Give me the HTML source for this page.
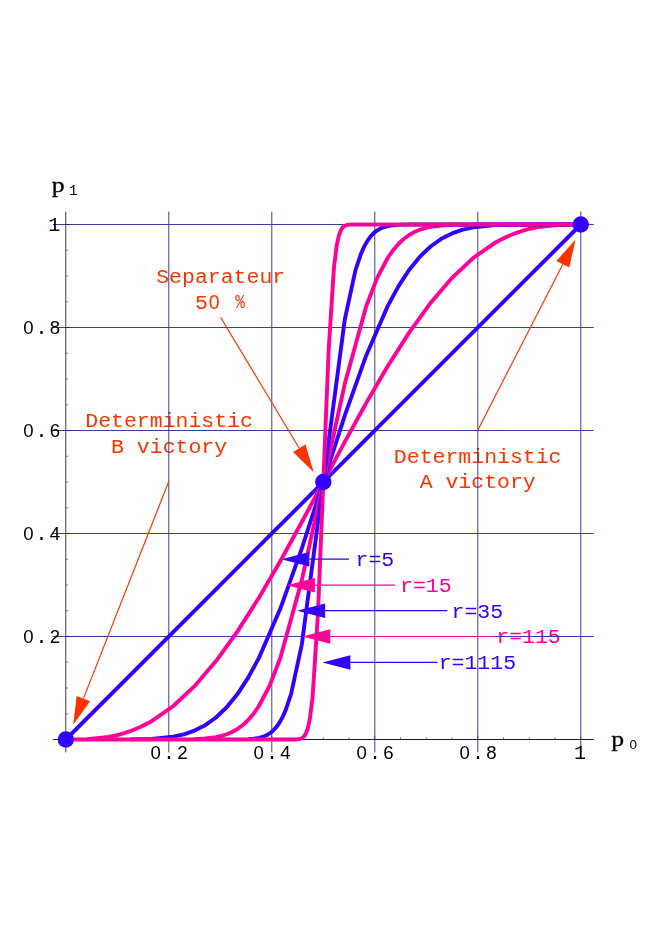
<!DOCTYPE html>
<html><head><meta charset="utf-8"><title>plot</title>
<style>html,body{margin:0;padding:0;background:#fff;}svg{display:block;will-change:transform;}text{font-family:"Liberation Mono",monospace;}</style>
</head><body>
<svg width="664" height="940" viewBox="0 0 664 940">
<rect width="664" height="940" fill="#ffffff"/>
<text transform="translate(220.70,283.40) scale(1.1026,1)" fill="#ff3300" font-size="19.5" text-anchor="middle" font-weight="normal" xml:space="preserve">Separateur</text>
<text transform="translate(201.35,308.50) scale(1.024,1)" fill="#ff3300" font-size="21" text-anchor="middle" font-weight="normal" xml:space="preserve">5</text>
<text x="214.25" y="308.5" fill="#ff3300" font-size="19.4" text-anchor="middle" style="font-family:'Liberation Sans',sans-serif">0</text>
<text transform="translate(240.10,308.30) scale(0.8,1)" fill="#ff3300" font-size="20" text-anchor="middle" font-weight="normal" xml:space="preserve">%</text>
<text transform="translate(169.10,427.10) scale(1.1026,1)" fill="#ff3300" font-size="19.5" text-anchor="middle" font-weight="normal" xml:space="preserve">Deterministic</text>
<text transform="translate(169.10,452.70) scale(1.1026,1)" fill="#ff3300" font-size="19.5" text-anchor="middle" font-weight="normal" xml:space="preserve">B victory</text>
<text transform="translate(477.70,463.00) scale(1.1026,1)" fill="#ff3300" font-size="19.5" text-anchor="middle" font-weight="normal" xml:space="preserve">Deterministic</text>
<text transform="translate(477.70,488.40) scale(1.1026,1)" fill="#ff3300" font-size="19.5" text-anchor="middle" font-weight="normal" xml:space="preserve">A victory</text>
<text transform="translate(374.90,566.00) scale(1.024,1)" fill="#3300ff" font-size="21" text-anchor="middle" font-weight="normal" xml:space="preserve">r=5</text>
<text transform="translate(425.85,592.00) scale(1.024,1)" fill="#ff0099" font-size="21" text-anchor="middle" font-weight="normal" xml:space="preserve">r=15</text>
<text transform="translate(477.35,617.50) scale(1.024,1)" fill="#3300ff" font-size="21" text-anchor="middle" font-weight="normal" xml:space="preserve">r=35</text>
<text transform="translate(528.50,643.20) scale(1.024,1)" fill="#ff0099" font-size="21" text-anchor="middle" font-weight="normal" xml:space="preserve">r=115</text>
<text transform="translate(477.35,669.20) scale(1.024,1)" fill="#3300ff" font-size="21" text-anchor="middle" font-weight="normal" xml:space="preserve">r=1115</text>
<g stroke="#333399" stroke-width="0.95" fill="none">
<line x1="168.80" y1="211.62" x2="168.80" y2="752.38"/>
<line x1="52.92" y1="636.50" x2="593.67" y2="636.50"/>
<line x1="271.80" y1="211.62" x2="271.80" y2="752.38"/>
<line x1="52.92" y1="533.50" x2="593.67" y2="533.50"/>
<line x1="374.80" y1="211.62" x2="374.80" y2="752.38"/>
<line x1="52.92" y1="430.50" x2="593.67" y2="430.50"/>
<line x1="477.80" y1="211.62" x2="477.80" y2="752.38"/>
<line x1="52.92" y1="327.50" x2="593.67" y2="327.50"/>
<line x1="580.80" y1="211.62" x2="580.80" y2="752.38"/>
<line x1="52.92" y1="224.50" x2="593.67" y2="224.50"/>
<line x1="52.92" y1="739.50" x2="593.67" y2="739.50"/>
<line x1="66.30" y1="211.62" x2="66.30" y2="752.38" stroke-width="0.35"/>
</g>
<g stroke="#000000" stroke-width="0.6" fill="none">
<line x1="52.92" y1="739.50" x2="593.67" y2="739.50"/>
<line x1="65.50" y1="211.62" x2="65.50" y2="752.38" stroke-width="0.55"/>
</g>
<g stroke="#000000" stroke-width="0.45" fill="none">
<line x1="91.55" y1="739.50" x2="91.55" y2="737.10"/>
<line x1="65.80" y1="713.75" x2="68.20" y2="713.75"/>
<line x1="117.30" y1="739.50" x2="117.30" y2="737.10"/>
<line x1="65.80" y1="688.00" x2="68.20" y2="688.00"/>
<line x1="143.05" y1="739.50" x2="143.05" y2="737.10"/>
<line x1="65.80" y1="662.25" x2="68.20" y2="662.25"/>
<line x1="168.80" y1="739.50" x2="168.80" y2="735.70"/>
<line x1="65.80" y1="636.50" x2="69.60" y2="636.50"/>
<line x1="194.55" y1="739.50" x2="194.55" y2="737.10"/>
<line x1="65.80" y1="610.75" x2="68.20" y2="610.75"/>
<line x1="220.30" y1="739.50" x2="220.30" y2="737.10"/>
<line x1="65.80" y1="585.00" x2="68.20" y2="585.00"/>
<line x1="246.05" y1="739.50" x2="246.05" y2="737.10"/>
<line x1="65.80" y1="559.25" x2="68.20" y2="559.25"/>
<line x1="271.80" y1="739.50" x2="271.80" y2="735.70"/>
<line x1="65.80" y1="533.50" x2="69.60" y2="533.50"/>
<line x1="297.55" y1="739.50" x2="297.55" y2="737.10"/>
<line x1="65.80" y1="507.75" x2="68.20" y2="507.75"/>
<line x1="323.30" y1="739.50" x2="323.30" y2="737.10"/>
<line x1="65.80" y1="482.00" x2="68.20" y2="482.00"/>
<line x1="349.05" y1="739.50" x2="349.05" y2="737.10"/>
<line x1="65.80" y1="456.25" x2="68.20" y2="456.25"/>
<line x1="374.80" y1="739.50" x2="374.80" y2="735.70"/>
<line x1="65.80" y1="430.50" x2="69.60" y2="430.50"/>
<line x1="400.55" y1="739.50" x2="400.55" y2="737.10"/>
<line x1="65.80" y1="404.75" x2="68.20" y2="404.75"/>
<line x1="426.30" y1="739.50" x2="426.30" y2="737.10"/>
<line x1="65.80" y1="379.00" x2="68.20" y2="379.00"/>
<line x1="452.05" y1="739.50" x2="452.05" y2="737.10"/>
<line x1="65.80" y1="353.25" x2="68.20" y2="353.25"/>
<line x1="477.80" y1="739.50" x2="477.80" y2="735.70"/>
<line x1="65.80" y1="327.50" x2="69.60" y2="327.50"/>
<line x1="503.55" y1="739.50" x2="503.55" y2="737.10"/>
<line x1="65.80" y1="301.75" x2="68.20" y2="301.75"/>
<line x1="529.30" y1="739.50" x2="529.30" y2="737.10"/>
<line x1="65.80" y1="276.00" x2="68.20" y2="276.00"/>
<line x1="555.05" y1="739.50" x2="555.05" y2="737.10"/>
<line x1="65.80" y1="250.25" x2="68.20" y2="250.25"/>
<line x1="580.80" y1="739.50" x2="580.80" y2="735.70"/>
<line x1="65.80" y1="224.50" x2="69.60" y2="224.50"/>
</g>
<g fill="none" stroke-width="3.9" stroke-linejoin="round" stroke-linecap="butt">
<path d="M65.80,739.50 L580.80,224.50" stroke="#3300ff"/>
<path d="M87.26,739.15 L108.72,736.88 L119.45,734.55 L130.18,731.23 L140.90,726.82 L151.63,721.22 L173.09,706.27 L194.55,686.19 L216.01,661.10 L237.47,631.41 L258.93,597.77 L280.38,560.99 L301.84,522.05 L323.30,482.00 L344.76,441.95 L366.22,403.01 L387.68,366.23 L409.13,332.59 L430.59,302.90 L452.05,277.81 L473.51,257.73 L494.97,242.78 L505.70,237.18 L516.42,232.77 L527.15,229.45 L537.88,227.12 L559.34,224.85 L580.80,224.50" stroke="#ff0099"/>
<path d="M130.18,739.41 L151.63,738.85 L173.09,736.66 L183.82,734.29 L194.55,730.59 L205.28,725.14 L216.01,717.51 L226.74,707.26 L237.47,694.06 L248.20,677.63 L258.93,657.86 L280.38,608.53 L301.84,548.35 L323.30,482.00 L344.76,415.65 L366.22,355.47 L387.68,306.14 L398.40,286.37 L409.13,269.94 L419.86,256.74 L430.59,246.49 L441.32,238.86 L452.05,233.41 L462.78,229.71 L473.51,227.34 L494.97,225.15 L516.42,224.59 L537.88,224.50 L559.34,224.50 L580.80,224.50" stroke="#3300ff"/>
<path d="M194.55,739.14 L205.28,738.52 L216.01,737.12 L221.37,735.92 L226.74,734.26 L232.10,732.00 L237.47,728.98 L242.83,725.05 L248.20,720.03 L253.56,713.74 L258.93,706.00 L269.65,685.58 L280.38,657.80 L301.84,580.13 L323.30,482.00 L344.76,383.87 L366.22,306.20 L376.95,278.42 L387.68,258.00 L393.04,250.26 L398.40,243.97 L403.77,238.95 L409.13,235.02 L414.50,232.00 L419.86,229.74 L425.23,228.08 L430.59,226.88 L441.32,225.48 L452.05,224.86 L473.51,224.53 L494.97,224.50 L516.42,224.50 L537.88,224.50 L559.34,224.50 L580.80,224.50" stroke="#ff0099"/>
<path d="M248.20,739.15 L253.56,738.72 L258.93,737.87 L261.61,737.19 L264.29,736.27 L266.97,735.04 L269.65,733.43 L272.34,731.34 L275.02,728.68 L277.70,725.32 L280.38,721.15 L283.07,716.04 L285.75,709.86 L291.11,693.81 L301.84,644.32 L323.30,482.00 L344.76,319.68 L355.49,270.19 L360.85,254.14 L363.53,247.96 L366.22,242.85 L368.90,238.68 L371.58,235.32 L374.26,232.66 L376.95,230.57 L379.63,228.96 L382.31,227.73 L384.99,226.81 L387.68,226.13 L393.04,225.28 L398.40,224.85 L409.13,224.56 L430.59,224.50 L452.05,224.50 L473.51,224.50 L494.97,224.50 L516.42,224.50 L537.88,224.50 L559.34,224.50 L580.80,224.50" stroke="#3300ff"/>
<path d="M65.80,739.50 L87.26,739.50 L108.72,739.50 L130.18,739.50 L151.63,739.50 L173.09,739.50 L194.55,739.50 L216.01,739.50 L237.47,739.50 L258.93,739.50 L280.38,739.50 L291.11,739.49 L293.79,739.47 L296.48,739.37 L297.82,739.26 L299.16,739.06 L300.50,738.72 L301.17,738.46 L301.84,738.13 L302.51,737.72 L303.18,737.19 L303.85,736.53 L304.52,735.70 L305.19,734.68 L305.87,733.43 L307.21,730.06 L308.55,725.21 L309.89,718.45 L312.57,697.31 L317.94,614.23 L323.30,482.00 L328.66,349.77 L334.03,266.69 L336.71,245.55 L338.05,238.79 L339.39,233.94 L340.73,230.57 L341.41,229.32 L342.08,228.30 L342.75,227.47 L343.42,226.81 L344.09,226.28 L344.76,225.87 L345.43,225.54 L346.10,225.28 L347.44,224.94 L348.78,224.74 L350.12,224.63 L352.81,224.53 L355.49,224.51 L366.22,224.50 L387.68,224.50 L409.13,224.50 L430.59,224.50 L452.05,224.50 L473.51,224.50 L494.97,224.50 L516.42,224.50 L537.88,224.50 L559.34,224.50 L580.80,224.50" stroke="#ff0099"/>
</g>
<line x1="220.60" y1="317.30" x2="299.28" y2="448.30" stroke="#ff3300" stroke-width="1.2"/>
<polygon points="313.70,472.30 293.07,452.03 305.50,444.56" fill="#ff3300"/>
<line x1="168.70" y1="481.60" x2="83.40" y2="698.64" stroke="#ff3300" stroke-width="1.2"/>
<polygon points="73.16,724.70 76.65,695.99 90.15,701.29" fill="#ff3300"/>
<line x1="477.90" y1="429.90" x2="562.82" y2="264.31" stroke="#ff3300" stroke-width="1.2"/>
<polygon points="575.60,239.40 569.27,267.62 556.37,261.01" fill="#ff3300"/>
<line x1="349.00" y1="559.20" x2="309.30" y2="559.20" stroke="#3300ff" stroke-width="1.2"/>
<polygon points="281.30,559.20 309.30,551.95 309.30,566.45" fill="#3300ff"/>
<line x1="394.90" y1="585.20" x2="314.90" y2="585.20" stroke="#ff0099" stroke-width="1.2"/>
<polygon points="286.90,585.20 314.90,577.95 314.90,592.45" fill="#ff0099"/>
<line x1="447.30" y1="610.70" x2="325.10" y2="610.70" stroke="#3300ff" stroke-width="1.2"/>
<polygon points="297.10,610.70 325.10,603.45 325.10,617.95" fill="#3300ff"/>
<line x1="493.80" y1="636.50" x2="330.30" y2="636.50" stroke="#ff0099" stroke-width="1.2"/>
<polygon points="302.30,636.50 330.30,629.25 330.30,643.75" fill="#ff0099"/>
<line x1="437.60" y1="662.40" x2="350.40" y2="662.40" stroke="#3300ff" stroke-width="1.2"/>
<polygon points="322.40,662.40 350.40,655.15 350.40,669.65" fill="#3300ff"/>
<text x="155.70" y="758.80" fill="#000" font-size="18.6" text-anchor="middle" style="font-family:'Liberation Sans',sans-serif">0</text>
<text x="169.00" y="758.80" fill="#000" font-size="20" text-anchor="middle">.</text>
<text x="182.30" y="758.80" fill="#000" font-size="18.6" text-anchor="middle" style="font-family:'Liberation Sans',sans-serif">2</text>
<text x="28.30" y="643.10" fill="#000" font-size="18.6" text-anchor="middle" style="font-family:'Liberation Sans',sans-serif">0</text>
<text x="41.60" y="643.10" fill="#000" font-size="20" text-anchor="middle">.</text>
<text x="54.90" y="643.10" fill="#000" font-size="18.6" text-anchor="middle" style="font-family:'Liberation Sans',sans-serif">2</text>
<text x="258.70" y="758.80" fill="#000" font-size="18.6" text-anchor="middle" style="font-family:'Liberation Sans',sans-serif">0</text>
<text x="272.00" y="758.80" fill="#000" font-size="20" text-anchor="middle">.</text>
<text x="285.30" y="758.80" fill="#000" font-size="18.6" text-anchor="middle" style="font-family:'Liberation Sans',sans-serif">4</text>
<text x="28.30" y="540.10" fill="#000" font-size="18.6" text-anchor="middle" style="font-family:'Liberation Sans',sans-serif">0</text>
<text x="41.60" y="540.10" fill="#000" font-size="20" text-anchor="middle">.</text>
<text x="54.90" y="540.10" fill="#000" font-size="18.6" text-anchor="middle" style="font-family:'Liberation Sans',sans-serif">4</text>
<text x="361.70" y="758.80" fill="#000" font-size="18.6" text-anchor="middle" style="font-family:'Liberation Sans',sans-serif">0</text>
<text x="375.00" y="758.80" fill="#000" font-size="20" text-anchor="middle">.</text>
<text x="388.30" y="758.80" fill="#000" font-size="18.6" text-anchor="middle" style="font-family:'Liberation Sans',sans-serif">6</text>
<text x="28.30" y="437.10" fill="#000" font-size="18.6" text-anchor="middle" style="font-family:'Liberation Sans',sans-serif">0</text>
<text x="41.60" y="437.10" fill="#000" font-size="20" text-anchor="middle">.</text>
<text x="54.90" y="437.10" fill="#000" font-size="18.6" text-anchor="middle" style="font-family:'Liberation Sans',sans-serif">6</text>
<text x="464.70" y="758.80" fill="#000" font-size="18.6" text-anchor="middle" style="font-family:'Liberation Sans',sans-serif">0</text>
<text x="478.00" y="758.80" fill="#000" font-size="20" text-anchor="middle">.</text>
<text x="491.30" y="758.80" fill="#000" font-size="18.6" text-anchor="middle" style="font-family:'Liberation Sans',sans-serif">8</text>
<text x="28.30" y="334.10" fill="#000" font-size="18.6" text-anchor="middle" style="font-family:'Liberation Sans',sans-serif">0</text>
<text x="41.60" y="334.10" fill="#000" font-size="20" text-anchor="middle">.</text>
<text x="54.90" y="334.10" fill="#000" font-size="18.6" text-anchor="middle" style="font-family:'Liberation Sans',sans-serif">8</text>
<text x="580.10" y="758.80" fill="#000" font-size="20" text-anchor="middle">1</text>
<text x="54.20" y="231.10" fill="#000" font-size="20" text-anchor="middle">1</text>
<text transform="translate(58.10,191.50) scale(1.17,0.96)" fill="#000" stroke="#000" stroke-width="0.32" font-size="22" text-anchor="middle" style="font-family:'Liberation Serif',serif">p</text>
<text transform="translate(73.20,194.80) scale(1,1)" fill="#000" font-size="14.2" text-anchor="middle" font-weight="normal" xml:space="preserve">1</text>
<text transform="translate(617.70,745.90) scale(1.17,0.96)" fill="#000" stroke="#000" stroke-width="0.32" font-size="22" text-anchor="middle" style="font-family:'Liberation Serif',serif">p</text>
<text x="633.2" y="749.3" fill="#000" font-size="13.4" text-anchor="middle" style="font-family:'Liberation Sans',sans-serif">0</text>
<circle cx="65.80" cy="739.50" r="8.2" fill="#3300ff"/>
<circle cx="323.30" cy="482.00" r="8.2" fill="#3300ff"/>
<circle cx="580.80" cy="224.50" r="8.2" fill="#3300ff"/>
</svg>
</body></html>
